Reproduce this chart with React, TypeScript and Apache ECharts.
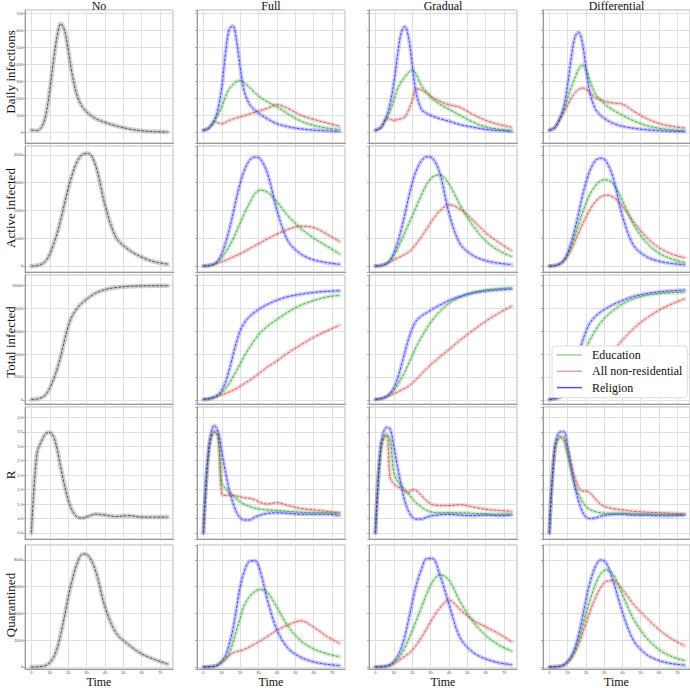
import React, { useEffect, useRef } from "react";
import * as echarts from "echarts";

const T = [0, 3, 6, 8, 10, 12, 14, 16, 18, 20, 22, 25, 28, 31, 35, 40, 46, 53, 60, 67, 74];

const rowNames = ["Daily infections", "Active infected", "Total infected", "R", "Quarantined"];
const colNames = ["No", "Full", "Gradual", "Differential"];
const drawOrder = ["All non-residential", "Education", "Religion"];
const legendOrder = ["Education", "All non-residential", "Religion"];
const xTickStep = 10;
const yTickSteps = [100, 1000, 2000, 0.5, 2000];

// ---- Daily infections ----
const diNo = [12, 10, 40, 110, 250, 420, 565, 638, 600, 485, 350, 210, 145, 110, 80, 58, 38, 20, 9, 4, 2];
const diFullRed = [12, 25, 62, 55, 50, 58, 70, 78, 84, 91, 97, 108, 118, 128, 142, 162, 140, 100, 76, 55, 36];
const diFullGreen = [12, 25, 68, 105, 150, 210, 255, 280, 298, 304, 292, 265, 232, 205, 178, 150, 108, 66, 40, 25, 16];
const diFullBlue = [12, 25, 70, 140, 265, 465, 605, 625, 540, 380, 250, 165, 130, 105, 78, 50, 33, 20, 13, 8, 5];
const diGradRed = [12, 28, 80, 78, 70, 75, 80, 90, 130, 185, 255, 250, 228, 205, 182, 162, 146, 105, 70, 46, 30];
const diGradGreen = [12, 28, 85, 125, 189, 255, 295, 325, 352, 367, 345, 275, 235, 198, 165, 135, 100, 60, 32, 18, 8];
const diGradBlue = [12, 28, 90, 170, 288, 450, 585, 622, 560, 400, 240, 135, 110, 95, 80, 65, 45, 30, 17, 10, 5];
const diDiffRed = [12, 28, 80, 118, 160, 200, 232, 252, 260, 255, 235, 205, 190, 180, 172, 165, 125, 82, 52, 35, 25];
const diDiffGreen = [12, 28, 85, 135, 200, 265, 320, 370, 395, 370, 310, 230, 190, 160, 130, 100, 68, 40, 24, 14, 8];
const diDiffBlue = [12, 28, 90, 155, 280, 440, 560, 588, 530, 380, 240, 140, 100, 75, 52, 35, 24, 15, 9, 6, 4];

// ---- Active infected ----
const aiNo = [0, 15, 80, 200, 430, 780, 1180, 1680, 2240, 2780, 3250, 3780, 4020, 4050, 3600, 2200, 1030, 580, 320, 150, 70];
const aiFullRed = [0, 15, 60, 110, 160, 210, 260, 320, 380, 440, 510, 620, 730, 840, 980, 1150, 1320, 1430, 1380, 1150, 880];
const aiFullGreen = [0, 15, 70, 160, 300, 480, 700, 950, 1250, 1550, 1850, 2250, 2600, 2730, 2650, 2300, 1800, 1350, 1000, 720, 440];
const aiFullBlue = [0, 15, 80, 200, 450, 820, 1300, 1850, 2450, 2980, 3400, 3800, 3920, 3850, 3300, 2000, 900, 430, 220, 120, 60];
const aiGradRed = [0, 15, 80, 150, 220, 290, 350, 420, 500, 620, 780, 1050, 1350, 1650, 1980, 2200, 2050, 1650, 1200, 850, 560];
const aiGradGreen = [0, 15, 85, 190, 380, 620, 900, 1200, 1500, 1800, 2100, 2550, 2950, 3200, 3280, 2950, 2200, 1450, 900, 560, 340];
const aiGradBlue = [0, 15, 90, 210, 460, 830, 1300, 1850, 2450, 2980, 3400, 3780, 3930, 3880, 3350, 1900, 800, 380, 190, 100, 50];
const aiDiffRed = [0, 15, 80, 180, 360, 600, 880, 1180, 1480, 1750, 2000, 2300, 2480, 2550, 2480, 2150, 1600, 1050, 660, 430, 300];
const aiDiffGreen = [0, 15, 85, 200, 420, 720, 1100, 1500, 1900, 2250, 2550, 2870, 3060, 3100, 2950, 2350, 1500, 850, 460, 250, 130];
const aiDiffBlue = [0, 15, 90, 210, 470, 850, 1350, 1900, 2500, 3000, 3400, 3780, 3880, 3780, 3150, 1800, 750, 340, 170, 90, 45];

// ---- Total infected ----
const tiNo = [50, 80, 250, 500, 1050, 1800, 2700, 3850, 5200, 6400, 7250, 8000, 8500, 8880, 9300, 9600, 9780, 9880, 9920, 9930, 9930];
const tiFullRed = [50, 110, 230, 350, 450, 570, 700, 850, 1000, 1200, 1400, 1700, 2050, 2400, 2900, 3400, 4100, 4800, 5450, 6000, 6500];
const tiFullGreen = [50, 110, 240, 400, 650, 1000, 1450, 2000, 2550, 3150, 3750, 4550, 5250, 5850, 6450, 7000, 7650, 8250, 8650, 8950, 9100];
const tiFullBlue = [50, 110, 250, 450, 850, 1550, 2600, 3850, 5050, 6000, 6650, 7250, 7650, 7980, 8330, 8680, 8990, 9200, 9350, 9450, 9500];
const tiGradRed = [50, 120, 280, 420, 560, 700, 850, 1000, 1200, 1450, 1750, 2250, 2750, 3200, 3750, 4400, 5200, 6050, 6850, 7550, 8150];
const tiGradGreen = [50, 120, 290, 520, 850, 1300, 1850, 2450, 3150, 3850, 4550, 5450, 6250, 6950, 7700, 8400, 8950, 9350, 9560, 9680, 9750];
const tiGradBlue = [50, 120, 300, 580, 1050, 1850, 2950, 4150, 5300, 6200, 6850, 7300, 7600, 7900, 8250, 8650, 9000, 9300, 9480, 9580, 9650];
const tiDiffRed = [50, 120, 280, 480, 700, 950, 1200, 1450, 1650, 1900, 2150, 2600, 3100, 3600, 4300, 5200, 6200, 7100, 7800, 8350, 8800];
const tiDiffGreen = [50, 120, 290, 540, 950, 1500, 2200, 2950, 3700, 4450, 5150, 6000, 6700, 7250, 7800, 8350, 8800, 9100, 9250, 9330, 9380];
const tiDiffBlue = [50, 120, 300, 570, 1050, 1800, 2850, 4000, 5050, 5950, 6650, 7250, 7650, 7950, 8300, 8650, 9000, 9250, 9400, 9500, 9560];

// ---- R ----
const rNo = [0, 2.75, 3.25, 3.45, 3.48, 3.33, 2.9, 2.25, 1.65, 1.15, 0.8, 0.55, 0.52, 0.58, 0.65, 0.62, 0.57, 0.6, 0.55, 0.55, 0.55];
const rFullRed = [0, 2.9, 3.5, 3.3, 1.35, 1.3, 1.32, 1.3, 1.28, 1.25, 1.22, 1.2, 1.15, 1.05, 1.0, 1.05, 0.95, 0.85, 0.8, 0.75, 0.7];
const rFullGreen = [0, 2.9, 3.5, 3.4, 1.7, 1.55, 1.4, 1.3, 1.18, 1.08, 1.0, 0.92, 0.86, 0.82, 0.8, 0.78, 0.75, 0.72, 0.7, 0.7, 0.68];
const rFullBlue = [0, 3.0, 3.72, 3.5, 2.8, 2.1, 1.5, 1.05, 0.72, 0.52, 0.45, 0.45, 0.55, 0.62, 0.68, 0.7, 0.68, 0.65, 0.65, 0.65, 0.6];
const rGradRed = [0, 3.1, 3.4, 1.9, 1.7, 1.6, 1.55, 1.45, 1.4, 1.5, 1.48, 1.3, 1.1, 0.98, 0.95, 0.95, 0.98, 0.9, 0.82, 0.78, 0.75];
const rGradGreen = [0, 2.9, 3.4, 3.2, 2.1, 1.8, 1.65, 1.5, 1.35, 1.2, 1.05, 0.9, 0.78, 0.72, 0.7, 0.7, 0.7, 0.68, 0.66, 0.65, 0.65];
const rGradBlue = [0, 3.0, 3.65, 3.6, 3.0, 2.3, 1.65, 1.1, 0.75, 0.55, 0.48, 0.48, 0.55, 0.6, 0.63, 0.65, 0.62, 0.6, 0.62, 0.6, 0.62];
const rDiffRed = [0, 2.9, 3.3, 3.2, 2.8, 2.3, 1.9, 1.6, 1.45, 1.45, 1.4, 1.2, 1.0, 0.9, 0.84, 0.8, 0.75, 0.72, 0.7, 0.68, 0.66];
const rDiffGreen = [0, 2.9, 3.35, 3.3, 2.7, 2.1, 1.65, 1.35, 1.1, 0.92, 0.82, 0.74, 0.7, 0.68, 0.68, 0.68, 0.66, 0.65, 0.65, 0.64, 0.64];
const rDiffBlue = [0, 3.0, 3.5, 3.5, 3.0, 2.3, 1.6, 1.1, 0.75, 0.55, 0.5, 0.52, 0.58, 0.62, 0.64, 0.65, 0.62, 0.62, 0.6, 0.6, 0.62];

// ---- Quarantined ----
const qNo = [0, 10, 50, 130, 330, 700, 1400, 2500, 3800, 5200, 6400, 7800, 8450, 8320, 7150, 4500, 2550, 1650, 980, 560, 230];
const qFullRed = [0, 10, 50, 140, 330, 560, 850, 1050, 1150, 1220, 1300, 1500, 1720, 1950, 2300, 2750, 3150, 3450, 2980, 2300, 1780];
const qFullGreen = [0, 10, 55, 160, 380, 650, 1000, 1800, 2750, 3650, 4550, 5250, 5650, 5800, 5550, 4450, 3050, 1950, 1350, 1000, 760];
const qFullBlue = [0, 10, 60, 180, 450, 850, 1700, 2800, 4400, 6000, 7050, 7900, 7950, 7100, 4900, 2770, 1400, 720, 380, 200, 110];
const qGradRed = [0, 10, 50, 130, 260, 420, 600, 800, 1000, 1250, 1600, 2200, 2900, 3600, 4400, 5000, 4300, 3500, 3000, 2500, 1900];
const qGradGreen = [0, 10, 55, 150, 330, 580, 950, 1450, 2050, 2700, 3400, 4450, 5500, 6350, 6900, 6500, 4900, 3400, 2350, 1650, 1200];
const qGradBlue = [0, 10, 60, 170, 420, 800, 1400, 2300, 3500, 4800, 6000, 7300, 8100, 8100, 6900, 4700, 2200, 1100, 600, 320, 170];
const qDiffRed = [0, 10, 55, 150, 350, 650, 1100, 1700, 2450, 3250, 4050, 5100, 5900, 6400, 6450, 5800, 4700, 3700, 2800, 2100, 1600];
const qDiffGreen = [0, 10, 58, 160, 380, 720, 1250, 2000, 2950, 3950, 4900, 6100, 6950, 7250, 6900, 5400, 3600, 2200, 1300, 780, 480];
const qDiffBlue = [0, 10, 60, 170, 420, 800, 1450, 2400, 3650, 5000, 6200, 7450, 8000, 7800, 6400, 4100, 2000, 950, 480, 250, 140];

// panels[row] = [noSeries, [red, green, blue] for Full, Gradual, Differential]
const panels: [number[], number[][], number[][], number[][]][] = [
  [diNo, [diFullRed, diFullGreen, diFullBlue], [diGradRed, diGradGreen, diGradBlue], [diDiffRed, diDiffGreen, diDiffBlue]],
  [aiNo, [aiFullRed, aiFullGreen, aiFullBlue], [aiGradRed, aiGradGreen, aiGradBlue], [aiDiffRed, aiDiffGreen, aiDiffBlue]],
  [tiNo, [tiFullRed, tiFullGreen, tiFullBlue], [tiGradRed, tiGradGreen, tiGradBlue], [tiDiffRed, tiDiffGreen, tiDiffBlue]],
  [rNo, [rFullRed, rFullGreen, rFullBlue], [rGradRed, rGradGreen, rGradBlue], [rDiffRed, rDiffGreen, rDiffBlue]],
  [qNo, [qFullRed, qFullGreen, qFullBlue], [qGradRed, qGradGreen, qGradBlue], [qDiffRed, qDiffGreen, qDiffBlue]],
];

// layout
const rowsLayout = [
  { top: 10, bottom: 143, min: -63, max: 719 },
  { top: 146, bottom: 272, min: -216, max: 4317 },
  { top: 275, bottom: 404, min: -348, max: 10870 },
  { top: 407, bottom: 539, min: -0.208, max: 4.36 },
  { top: 545, bottom: 669, min: -150, max: 9118 },
];
const colsLayout = [
  { left: 25, width: 148 },
  { left: 197, width: 148 },
  { left: 369, width: 148 },
  { left: 543, width: 147 },
];
const X_MIN = -3.5;
const X_MAX = 77;

const COLORS: Record<string, { line: string; halo: string }> = {
  "All non-residential": { line: "#c44848", halo: "rgba(225,130,130,0.32)" },
  Education: { line: "#2c9a2c", halo: "rgba(110,200,110,0.32)" },
  Religion: { line: "#2a2af0", halo: "rgba(115,115,255,0.36)" },
  No: { line: "#333333", halo: "rgba(130,130,130,0.36)" },
};
const LEGEND_COLORS: Record<string, string> = {
  Education: "#9fd39f",
  "All non-residential": "#e2a3a3",
  Religion: "#5050e8",
};

const SERIF = '"Liberation Serif", "DejaVu Serif", serif';

function buildOption() {
  const grids: any[] = [];
  const xAxes: any[] = [];
  const yAxes: any[] = [];
  const series: any[] = [];
  const graphic: any[] = [];

  rowsLayout.forEach((rl, r) => {
    colsLayout.forEach((cl, c) => {
      const g = r * 4 + c;
      grids.push({
        left: cl.left,
        top: rl.top,
        width: cl.width,
        height: rl.bottom - rl.top,
        show: true,
        borderColor: "#b4b4b4",
        borderWidth: 1,
        backgroundColor: "transparent",
      });
      xAxes.push({
        type: "value",
        gridIndex: g,
        min: X_MIN,
        max: X_MAX,
        splitNumber: 8,
        minInterval: xTickStep,
        maxInterval: xTickStep,
        axisLine: { show: true, onZero: false, lineStyle: { color: "#9a9a9a", width: 1 } },
        axisTick: { show: true, length: 1.5, lineStyle: { color: "#9a9a9a", width: 0.8 } },
        axisLabel: {
          show: r === 4,
          fontSize: 4,
          lineHeight: 4,
          color: "#555",
          margin: 1,
          showMinLabel: false,
          showMaxLabel: false,
          fontFamily: "Liberation Sans",
        },
        splitLine: { show: true, lineStyle: { color: "#e0e0e0", width: 1 } },
      });
      const step = yTickSteps[r];
      yAxes.push({
        type: "value",
        gridIndex: g,
        min: rl.min,
        max: rl.max,
        splitNumber: 8,
        minInterval: step,
        maxInterval: step,
        axisLine: { show: true, onZero: false, lineStyle: { color: "#9a9a9a", width: 1 } },
        axisTick: { show: true, length: 2, lineStyle: { color: "#9a9a9a", width: 0.8 } },
        axisLabel: {
          show: c === 0,
          fontSize: 4,
          color: "#555",
          margin: 2,
          showMinLabel: false,
          showMaxLabel: false,
          fontFamily: "Liberation Sans",
          formatter: (v: number) => (r === 3 ? v.toFixed(1) : String(Math.round(v))),
        },
        splitLine: { show: true, lineStyle: { color: "#e0e0e0", width: 1 } },
      });

      const entries: { name: string; vals: number[] }[] =
        c === 0
          ? [{ name: "No", vals: panels[r][0] }]
          : (panels[r][c] as number[][]).map((vals, i) => ({ name: drawOrder[i], vals }));

      // confidence halos first
      entries.forEach((e) => {
        series.push({
          type: "line",
          name: e.name + " band",
          xAxisIndex: g,
          yAxisIndex: g,
          data: T.map((t, i) => [t, e.vals[i]]),
          symbol: "none",
          showSymbol: false,
          smooth: 0.35,
          silent: true,
          z: 2,
          lineStyle: { color: COLORS[e.name].halo, width: c === 0 ? 4.5 : 4, cap: "round", join: "round" },
          itemStyle: { color: COLORS[e.name].halo },
        });
      });
      entries.forEach((e) => {
        series.push({
          type: "line",
          name: e.name,
          xAxisIndex: g,
          yAxisIndex: g,
          data: T.map((t, i) => [t, e.vals[i]]),
          symbol: "none",
          showSymbol: false,
          smooth: 0.35,
          silent: true,
          z: 3,
          lineStyle: { color: COLORS[e.name].line, width: 0.8, type: [3, 1.2] },
          itemStyle: { color: COLORS[e.name].line },
        });
      });
    });
  });

  // column titles and Time labels
  colsLayout.forEach((cl, c) => {
    graphic.push({
      type: "text",
      x: cl.left + cl.width / 2,
      y: 6,
      silent: true,
      style: {
        text: colNames[c],
        font: `12px ${SERIF}`,
        fill: "#111",
        align: "center",
        verticalAlign: "middle",
        textAlign: "center",
        textVerticalAlign: "middle",
      },
    });
    graphic.push({
      type: "text",
      x: cl.left + cl.width / 2,
      y: 688,
      silent: true,
      style: {
        text: "Time",
        font: `12px ${SERIF}`,
        fill: "#111",
        align: "center",
        verticalAlign: "bottom",
        textAlign: "center",
        textVerticalAlign: "bottom",
      },
    });
  });

  // row labels
  const rowCenters = [72, 208, 342, 475, 605];
  rowNames.forEach((n, r) => {
    graphic.push({
      type: "text",
      x: 10.5,
      y: rowCenters[r],
      rotation: Math.PI / 2,
      silent: true,
      style: {
        text: n,
        font: `13px ${SERIF}`,
        fill: "#111",
        align: "center",
        verticalAlign: "middle",
        textAlign: "center",
        textVerticalAlign: "middle",
      },
    });
  });

  return {
    animation: false,
    backgroundColor: "#ffffff",
    grid: grids,
    xAxis: xAxes,
    yAxis: yAxes,
    series,
    graphic,
    legend: {
      data: legendOrder.map((n) => ({ name: n, itemStyle: { color: LEGEND_COLORS[n] } })),
      icon: "rect",
      itemWidth: 25,
      itemHeight: 1.5,
      orient: "vertical",
      left: 552,
      top: 346,
      padding: [2, 5, 3, 5],
      itemGap: 2.3,
      selectedMode: false,
      backgroundColor: "#ffffff",
      borderColor: "#dedede",
      borderWidth: 1,
      borderRadius: 3,
      z: 10,
      textStyle: {
        fontFamily: SERIF,
        fontSize: 12,
        color: "#111",
        lineHeight: 14,
        padding: [0, 0, 0, 5],
      },
    },
  };
}

export default function App() {
  const ref = useRef<HTMLDivElement>(null);
  useEffect(() => {
    if (!ref.current) return;
    const chart = echarts.init(ref.current, null, { renderer: "svg" });
    chart.setOption(buildOption() as any);
    return () => chart.dispose();
  }, []);
  return (
    <div
      ref={ref}
      style={{ position: "fixed", left: 0, top: 0, width: 690, height: 688, background: "#fff" }}
    />
  );
}
